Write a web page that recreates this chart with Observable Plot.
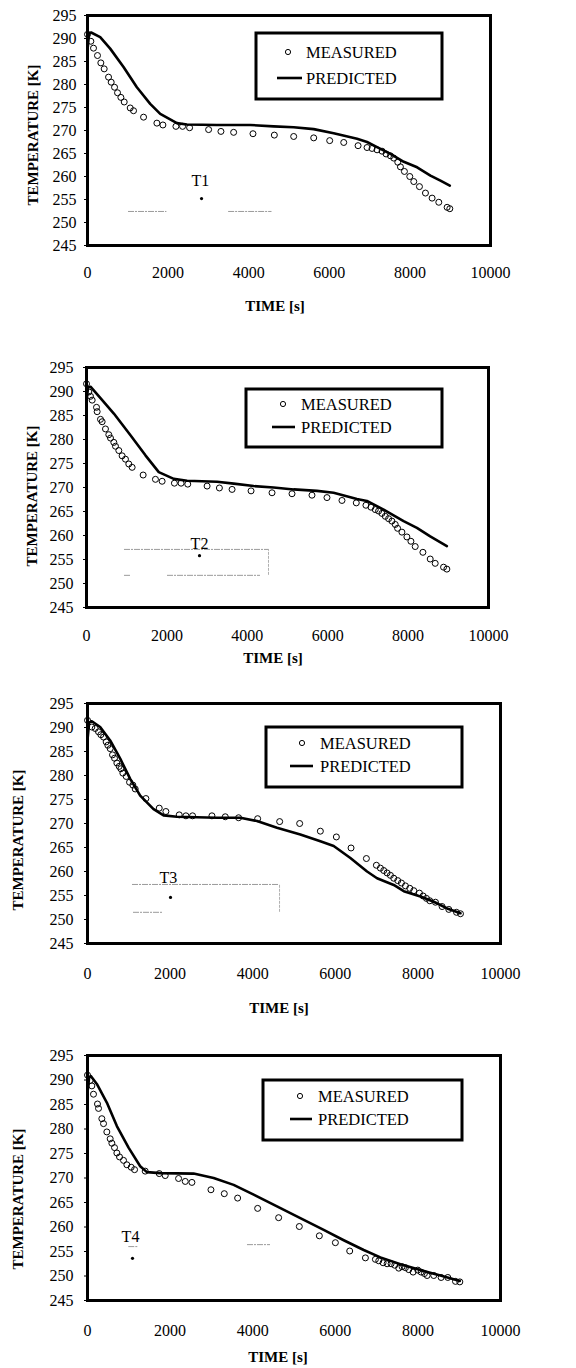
<!DOCTYPE html>
<html>
<head>
<meta charset="utf-8">
<script src="https://cdn.jsdelivr.net/npm/d3@7"></script>
<script src="https://cdn.jsdelivr.net/npm/@observablehq/plot@0.6"></script>
<style>
  html, body { margin: 0; padding: 0; background: #fff; overflow: hidden; }
  #wrap { width: 576px; }
  .panel { width: 576px; display: block; }
  .panel svg { display: block; }
</style>
</head>
<body>
<div id="wrap"></div>
<script>
// ---------- tick labels ----------
const xTicks = [0, 2000, 4000, 6000, 8000, 10000];
const yTicks = [245, 250, 255, 260, 265, 270, 275, 280, 285, 290, 295];
const seriesNames = ["MEASURED", "PREDICTED"];
const axisTitles = { x: "TIME [s]", y: "TEMPERATURE [K]" };
const panelLabels = ["T1", "T2", "T3", "T4"];

// ---------- T1 ----------
const t1MeasTime = [0, 83, 149, 248, 331, 414, 522, 588, 671, 745, 828, 911, 1060, 1142, 1391, 1722, 1871, 2194, 2359, 2533, 3005, 3311, 3626, 4106, 4636, 5116, 5613, 6010, 6358, 6714, 6937, 7061, 7185, 7310, 7409, 7517, 7599, 7699, 7765, 7864, 7997, 8096, 8237, 8386, 8551, 8717, 8924, 8990];
const t1MeasTemp = [290.9, 289.4, 287.9, 286.3, 284.7, 283.4, 281.6, 280.5, 279.4, 278.2, 277.2, 276.2, 274.9, 274.3, 272.9, 271.6, 271.2, 270.9, 270.9, 270.6, 270.2, 269.8, 269.6, 269.3, 269.0, 268.7, 268.4, 267.8, 267.4, 266.7, 266.3, 266.1, 265.8, 265.5, 264.9, 264.5, 264.0, 263.1, 262.1, 261.1, 260.0, 258.9, 257.8, 256.4, 255.3, 254.4, 253.3, 253.0];
const t1PredTime = [0, 40, 90, 315, 563, 894, 1225, 1556, 1805, 2219, 2467, 3212, 4040, 4619, 5116, 5613, 6109, 6689, 6937, 7185, 7517, 7848, 8179, 8510, 8758, 8990];
const t1PredTemp = [287.5, 291.2, 291.3, 290.3, 287.8, 283.8, 279.4, 275.8, 273.6, 271.6, 271.3, 271.2, 271.2, 270.9, 270.7, 270.3, 269.4, 268.2, 267.5, 266.4, 264.9, 263.2, 262.0, 260.2, 259.1, 258.0];

// ---------- T2 ----------
const t2MeasTime = [0, 58, 99, 141, 249, 265, 348, 389, 472, 555, 597, 680, 721, 804, 886, 969, 1052, 1135, 1409, 1715, 1881, 2187, 2353, 2519, 3000, 3306, 3621, 4093, 4615, 5112, 5609, 5982, 6355, 6711, 6951, 7076, 7183, 7266, 7349, 7432, 7515, 7597, 7680, 7738, 7846, 7970, 8070, 8177, 8368, 8550, 8674, 8882, 8964];
const t2MeasTemp = [291.6, 289.9, 289.0, 288.2, 286.7, 285.8, 284.2, 283.7, 282.2, 281.0, 280.3, 279.4, 278.6, 277.7, 276.6, 275.9, 274.9, 274.2, 272.6, 271.7, 271.3, 270.9, 270.9, 270.7, 270.3, 269.9, 269.6, 269.3, 268.9, 268.7, 268.4, 267.9, 267.3, 266.8, 266.3, 265.9, 265.4, 265.1, 264.6, 264.0, 263.5, 263.0, 262.3, 261.5, 260.7, 259.7, 258.8, 257.7, 256.5, 255.1, 254.2, 253.4, 253.0];
const t2PredTime = [0, 40, 99, 348, 680, 1094, 1466, 1798, 2171, 2502, 3248, 3662, 4159, 4656, 5153, 5733, 6147, 6727, 6976, 7391, 7888, 8219, 8550, 8964];
const t2PredTemp = [288.0, 290.9, 291.0, 288.6, 285.4, 280.9, 276.7, 273.2, 271.8, 271.4, 271.2, 270.8, 270.3, 270.0, 269.6, 269.3, 268.9, 267.6, 267.2, 265.4, 263.0, 261.6, 259.8, 257.8];

// ---------- T3 ----------
const t3MeasTime = [0, 105, 186, 267, 323, 388, 452, 493, 549, 606, 654, 711, 767, 808, 856, 937, 1018, 1098, 1155, 1414, 1737, 1898, 2221, 2383, 2544, 3013, 3336, 3659, 4120, 4653, 5137, 5638, 6026, 6381, 6753, 6995, 7092, 7173, 7254, 7334, 7415, 7512, 7601, 7698, 7803, 7900, 8037, 8126, 8207, 8288, 8425, 8586, 8748, 8934, 9031];
const t3MeasTemp = [291.5, 290.1, 289.8, 289.1, 288.5, 288.0, 287.0, 286.3, 285.6, 284.3, 283.6, 282.6, 281.9, 281.4, 280.5, 279.8, 278.6, 278.0, 277.2, 275.2, 273.2, 272.5, 271.8, 271.6, 271.6, 271.6, 271.4, 271.2, 271.0, 270.4, 270.0, 268.4, 267.2, 264.9, 262.7, 261.3, 260.7, 260.2, 259.7, 259.2, 258.6, 258.1, 257.6, 257.0, 256.5, 256.0, 255.5, 254.9, 254.4, 253.9, 253.6, 252.7, 252.1, 251.5, 251.2];
const t3PredTime = [0, 40, 105, 307, 549, 792, 1034, 1276, 1599, 1842, 2165, 3134, 3700, 4104, 4588, 5153, 5638, 5961, 6365, 6769, 7011, 7415, 7658, 8061, 8384, 8708, 9031];
const t3PredTemp = [287.5, 291.0, 291.3, 290.1, 287.3, 283.5, 279.3, 275.8, 273.0, 271.7, 271.4, 271.2, 271.2, 270.5, 269.1, 267.7, 266.3, 265.3, 262.8, 260.0, 258.6, 257.2, 255.9, 254.8, 253.7, 252.3, 251.3];

// ---------- T4 ----------
const t4MeasTime = [0, 65, 105, 145, 242, 267, 347, 388, 468, 549, 590, 654, 711, 775, 872, 953, 1058, 1139, 1397, 1737, 1882, 2205, 2367, 2528, 2989, 3312, 3635, 4120, 4628, 5129, 5614, 6002, 6349, 6729, 6971, 7052, 7157, 7254, 7351, 7440, 7536, 7617, 7698, 7779, 7884, 7997, 8078, 8158, 8223, 8384, 8562, 8724, 8910, 9015];
const t4MeasTemp = [291.0, 289.9, 288.8, 287.1, 285.1, 284.2, 282.1, 281.1, 279.4, 278.0, 277.1, 276.2, 275.1, 274.3, 273.6, 272.7, 272.2, 271.7, 271.4, 270.9, 270.5, 269.9, 269.3, 269.1, 267.6, 266.8, 265.9, 263.8, 261.9, 260.1, 258.2, 256.8, 255.1, 253.7, 253.4, 253.1, 252.7, 252.5, 252.5, 252.2, 251.6, 251.9, 251.7, 251.3, 250.8, 251.2, 250.8, 250.5, 250.1, 250.1, 249.7, 249.7, 248.9, 248.8];
const t4PredTime = [0, 40, 81, 226, 468, 711, 994, 1276, 1438, 1761, 2569, 3054, 3538, 4023, 4588, 5153, 5719, 6204, 6688, 7092, 7577, 8061, 8546, 9015];
const t4PredTemp = [287.5, 290.6, 290.8, 289.2, 285.4, 280.6, 276.2, 272.4, 271.2, 271.0, 270.9, 270.0, 268.6, 266.6, 264.2, 261.8, 259.4, 257.3, 255.3, 253.8, 252.4, 251.2, 250.1, 249.0];

// ---------- annotations (data units) ----------
const labelTime = [2800, 2811, 1961, 1041];
const labelTemp = [259.1, 258.3, 258.75, 257.9];
const markerTime = [2830, 2811, 2010, 1090];
const markerTemp = [255.2, 255.8, 254.6, 253.6];
// faint scan residue lines: [y, x1, x2]
const faintH = [
  [[252.4, 1018, 1970], [252.4, 3502, 4578]],
  [[257.1, 945, 4527], [251.7, 2015, 4328], [251.7, 945, 1100]],
  [[257.3, 1090, 4650], [251.5, 1114, 1816]],
  [[256.4, 3874, 4431], [256.0, 1000, 1220]]
];
// [x, y1, y2]
const faintV = [
  [],
  [[4527, 251.7, 257.1]],
  [[4650, 251.5, 257.3]],
  []
];

const measTimes = [t1MeasTime, t2MeasTime, t3MeasTime, t4MeasTime];
const measTemps = [t1MeasTemp, t2MeasTemp, t3MeasTemp, t4MeasTemp];
const predTimes = [t1PredTime, t2PredTime, t3PredTime, t4PredTime];
const predTemps = [t1PredTemp, t2PredTemp, t3PredTemp, t4PredTemp];

// ---------- layout per panel ----------
const layout = [
  { h: 330, mt: 15, mb: 85, ml: 87, mr: 86, xpad: 21, ypad: 8,
    yt: [33, 135], xt: [275, 306],
    leg: { x0: 256, x1: 442, y0: 33, y1: 99, cx: 288, cy: 52, tx: 306, lx0: 277, lx1: 302, ly: 78 } },
  { h: 350, mt: 37, mb: 73, ml: 86, mr: 88, xpad: 22, ypad: 10,
    yt: [32, 166], xt: [273, 328],
    leg: { x0: 246, x1: 442, y0: 59, y1: 117, cx: 283, cy: 74, tx: 301, lx0: 272, lx1: 295, ly: 97 } },
  { h: 340, mt: 23, mb: 77, ml: 87, mr: 76, xpad: 24, ypad: 11,
    yt: [18, 160], xt: [279, 328],
    leg: { x0: 266, x1: 462, y0: 47, y1: 107, cx: 302, cy: 63, tx: 320, lx0: 290, lx1: 313, ly: 86 } },
  { h: 348, mt: 35, mb: 68, ml: 87, mr: 76, xpad: 24, ypad: 11,
    yt: [18, 179], xt: [278, 337],
    leg: { x0: 263, x1: 462, y0: 60, y1: 120, cx: 300, cy: 76, tx: 318, lx0: 290, lx1: 312, ly: 99 } }
];

const serif = "'Liberation Serif', 'Times New Roman', Times, serif";
const wrap = document.getElementById("wrap");

layout.forEach((L, i) => {
  const meas = measTimes[i].map((t, k) => ({ t, T: measTemps[i][k] }));
  const pred = predTimes[i].map((t, k) => ({ t, T: predTemps[i][k] }));
  const hLines = faintH[i].map(([y, x1, x2]) => ({ y, x1, x2 }));
  const vLines = faintV[i].map(([x, y1, y2]) => ({ x, y1, y2 }));
  const ann = [{ t: labelTime[i], T: labelTemp[i], s: panelLabels[i] }];
  const mk = [{ t: markerTime[i], T: markerTemp[i] }];

  const chart = Plot.plot({
    width: 576,
    height: L.h,
    marginTop: L.mt, marginBottom: L.mb, marginLeft: L.ml, marginRight: L.mr,
    style: { fontFamily: serif, fontSize: "16px", background: "#fff", color: "#000", overflow: "visible" },
    x: { domain: [0, 10000], ticks: xTicks, tickFormat: d => String(d), label: null, tickSize: 0, tickPadding: L.xpad },
    y: { domain: [245, 295], ticks: yTicks, tickFormat: d => String(d), label: null, tickSize: 3, tickPadding: L.ypad },
    marks: [
      Plot.ruleY(hLines, { y: "y", x1: "x1", x2: "x2", stroke: "#9a9a9a", strokeWidth: 1, strokeDasharray: "6,1,2,1" }),
      Plot.ruleX(vLines, { x: "x", y1: "y1", y2: "y2", stroke: "#b0b0b0", strokeWidth: 1, strokeDasharray: "3,1" }),
      Plot.line(pred, { x: "t", y: "T", stroke: "#000", strokeWidth: 2.6, strokeLinejoin: "round" }),
      Plot.dot(meas, { x: "t", y: "T", r: 3, stroke: "#000", fill: "none", strokeWidth: 1 }),
      Plot.text(ann, { x: "t", y: "T", text: "s", fontSize: 16, fill: "#000" }),
      Plot.dot(mk, { x: "t", y: "T", r: 1.6, fill: "#000", stroke: "none" }),
      Plot.frame({ stroke: "#000", strokeWidth: 3 })
    ]
  });

  const svg = d3.select(chart);
  // axis titles
  svg.append("text")
    .attr("transform", `translate(${L.yt[0]},${L.yt[1]}) rotate(-90)`)
    .attr("text-anchor", "middle").attr("dy", "0.35em")
    .attr("font-family", serif).attr("font-weight", "bold").attr("font-size", 15)
    .attr("fill", "#000").text(axisTitles.y);
  svg.append("text")
    .attr("x", L.xt[0]).attr("y", L.xt[1])
    .attr("text-anchor", "middle").attr("dy", "0.35em")
    .attr("font-family", serif).attr("font-weight", "bold").attr("font-size", 15)
    .attr("fill", "#000").text(axisTitles.x);
  // legend box
  const g = svg.append("g").attr("text-anchor", "start");
  const lg = L.leg;
  g.append("rect").attr("x", lg.x0).attr("y", lg.y0)
    .attr("width", lg.x1 - lg.x0).attr("height", lg.y1 - lg.y0)
    .attr("fill", "#fff").attr("stroke", "#000").attr("stroke-width", 3);
  g.append("circle").attr("cx", lg.cx).attr("cy", lg.cy).attr("r", 2.6)
    .attr("fill", "none").attr("stroke", "#000").attr("stroke-width", 1);
  g.append("line").attr("x1", lg.lx0).attr("x2", lg.lx1).attr("y1", lg.ly).attr("y2", lg.ly)
    .attr("stroke", "#000").attr("stroke-width", 2.6);
  [[seriesNames[0], lg.cy], [seriesNames[1], lg.ly]].forEach(([s, y]) => {
    g.append("text").attr("x", lg.tx).attr("y", y).attr("dy", "0.35em")
      .attr("text-anchor", "start")
      .attr("font-family", serif).attr("font-size", 16.5).attr("fill", "#000").text(s);
  });

  const div = document.createElement("div");
  div.className = "panel";
  div.style.height = L.h + "px";
  div.appendChild(chart);
  wrap.appendChild(div);
});
</script>
</body>
</html>
